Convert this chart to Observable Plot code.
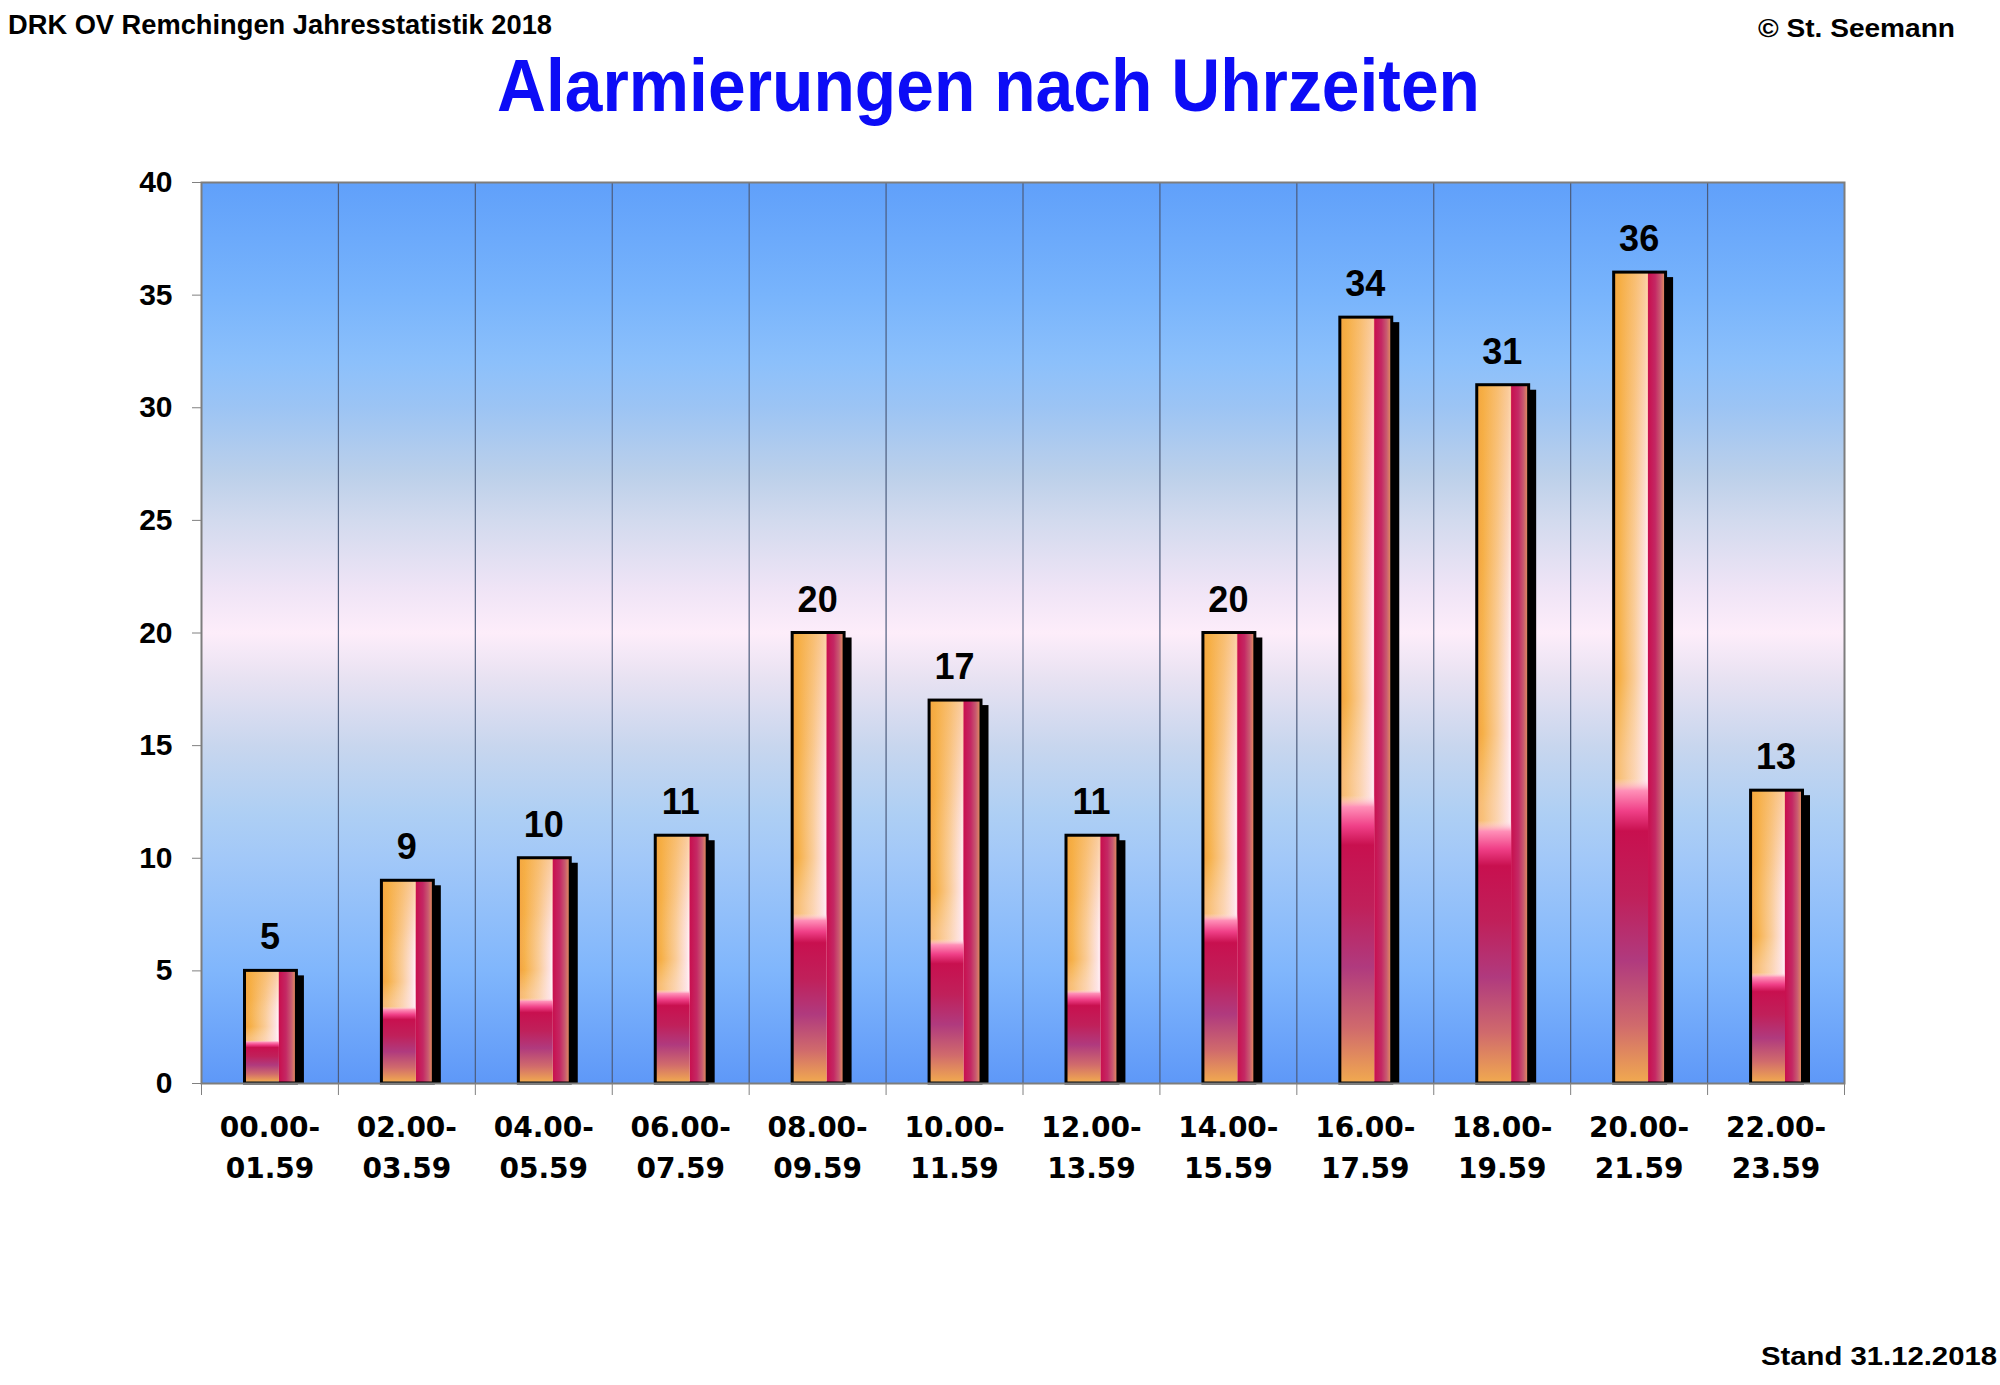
<!DOCTYPE html>
<html><head><meta charset="utf-8">
<script src="https://cdn.jsdelivr.net/npm/d3@7"></script>
<script src="https://cdn.jsdelivr.net/npm/@observablehq/plot@0.6"></script>
<style>
html,body{margin:0;padding:0;background:#fff;}
#page{position:relative;width:2000px;height:1385px;overflow:hidden;font-family:"Liberation Sans",Arial,sans-serif;color:#000;}
#header{position:relative;height:140px;}
#chart{height:1160px;}
#footer{position:relative;height:85px;}
.t{position:absolute;white-space:nowrap;line-height:1;transform-origin:0 0;}
</style></head><body>
<div id="page">
  <div id="header">
    <div class="t" id="src" style="font-size:27px;top:12px;left:8px;font-weight:bold;" data-w="544">DRK OV Remchingen Jahresstatistik 2018</div>
    <div class="t" id="title" style="font-size:75px;top:47.5px;left:497px;font-weight:bold;color:#0c0cf6;" data-w="983">Alarmierungen nach Uhrzeiten</div>
    <div class="t" id="copy" style="font-size:26px;top:15px;left:1758px;font-weight:bold;" data-w="197">© St. Seemann</div>
  </div>
  <div id="chart"></div>
  <div id="footer">
    <div class="t" id="stand" style="font-size:25px;top:43.8px;left:1761px;font-weight:bold;" data-w="236">Stand 31.12.2018</div>
  </div>
</div>
<script>
// ---- data ----
const labels = ["00.00-\n01.59","02.00-\n03.59","04.00-\n05.59","06.00-\n07.59","08.00-\n09.59","10.00-\n11.59","12.00-\n13.59","14.00-\n15.59","16.00-\n17.59","18.00-\n19.59","20.00-\n21.59","22.00-\n23.59"];
const counts = [5, 9, 10, 11, 20, 17, 11, 20, 34, 31, 36, 13];
const startHour = [0, 2, 4, 6, 8, 10, 12, 14, 16, 18, 20, 22];
const hourTicks = [0, 2, 4, 6, 8, 10, 12, 14, 16, 18, 20, 22, 24];
const yTicks = [0, 5, 10, 15, 20, 25, 30, 35, 40];

const rows = counts.map((c, i) => ({label: labels[i], count: c, start: startHour[i], end: startHour[i] + 2, mid: startHour[i] + 1}));

const chart = Plot.plot({
  width: 2000,
  height: 1160,
  marginLeft: 201,
  marginRight: 156,
  marginTop: 42,
  marginBottom: 217,
  style: {fontFamily: "'Liberation Sans', Arial, sans-serif", fontWeight: "bold", color: "black", background: "white", overflow: "visible"},
  x: {type: "linear", domain: [0, 24]},
  y: {domain: [0, 40]},
  marks: [
    Plot.frame({fill: "url(#bgGrad)"}),
    Plot.ruleX(startHour.slice(1), {stroke: "#4c5c7c", strokeWidth: 1.2}),
    // shadow
    Plot.rectY(rows, {x1: "start", x2: "end", y1: 0, y2: "count", fill: "black", insetLeft: 47.5, insetRight: 34, insetTop: 5}),
    // main body
    Plot.rectY(rows, {x1: "start", x2: "end", y1: 0, y2: "count", fill: "url(#barH)", insetLeft: 43.5, insetRight: 41.5}),
    Plot.rectY(rows, {x1: "start", x2: "end", y1: 0, y2: "count", fill: "url(#barTop)", insetLeft: 43.5, insetRight: 59}),
    Plot.rectY(rows, {x1: "start", x2: "end", y1: 0, y2: "count", fill: "url(#barV)", insetLeft: 44, insetRight: 59, insetBottom: 1.5, insetTop: 1.5}),
    Plot.rectY(rows, {x1: "start", x2: "end", y1: 0, y2: "count", fill: "none", stroke: "black", strokeWidth: 3, insetLeft: 43.5, insetRight: 41.5}),
    Plot.frame({stroke: "#7d7d7d", strokeWidth: 2}),
    Plot.axisY({ticks: yTicks, tickSize: 9, tickPadding: 20, fontSize: 30, stroke: "#808080", fill: "black", label: null}),
    Plot.axisX({ticks: hourTicks, tickSize: 12, tickFormat: () => "", stroke: "#808080", label: null}),
    Plot.axisX({ticks: rows.map(d => d.mid), tickSize: 0, tickPadding: 25, tickFormat: d => labels[startHour.indexOf(d - 1)], fontSize: 28, lineHeight: 1.45, fill: "black", fontFamily: "'DejaVu Sans', sans-serif", label: null}),
    Plot.text(rows, {x: "mid", y: "count", text: d => String(d.count), dy: -33, fontSize: 36, lineAnchor: "middle", fill: "black"})
  ]
});

// gradients
const defs = d3.select(chart).insert("defs", ":first-child");
function grad(id, x1, y1, x2, y2, stops) {
  const g = defs.append("linearGradient").attr("id", id)
    .attr("x1", x1).attr("y1", y1).attr("x2", x2).attr("y2", y2);
  for (const [o, c, op] of stops) {
    g.append("stop").attr("offset", o).attr("stop-color", c).attr("stop-opacity", op == null ? 1 : op);
  }
}
grad("bgGrad", 0, 0, 0, 1, [
  [0, "#60a0fa"], [0.125, "#78b4fc"], [0.2, "#8cc0fb"], [0.25, "#9cc4f4"],
  [0.325, "#bcd0ea"], [0.375, "#d2daee"], [0.45, "#efe4f6"], [0.5, "#fdedfa"],
  [0.55, "#e8e2f2"], [0.625, "#c8d6ee"], [0.7, "#aecff4"], [0.75, "#a2c8f8"],
  [0.875, "#80b6fc"], [1, "#5e98f8"]
]);
grad("barH", 0, 0, 1, 0, [
  [0, "#f2a040"], [0.12, "#f6b048"], [0.4, "#facc98"], [0.6, "#fde2e0"],
  [0.64, "#fff0f2"], [0.652, "#ffd0e0"], [0.67, "#c8104f"], [0.8, "#c42864"],
  [0.9, "#c85a70"], [1, "#e8985a"]
]);
grad("barTop", 0, 0, 0, 1, [
  [0, "#f6ac40", 0.45], [0.25, "#f6ac40", 0.15], [0.5, "#ffffff", 0], [0.6, "#ffe8ee", 0.3], [1, "#ffe8ee", 0.3]
]);
grad("barV", 0, 0, 0, 1, [
  [0, "#ffffff", 0], [0.625, "#ffe0ea", 0], [0.64, "#ff90b8", 1], [0.665, "#f04088", 1],
  [0.69, "#c8104f", 1], [0.77, "#c0205a", 1], [0.85, "#b03a7e", 1], [0.93, "#d06a6c", 1],
  [1, "#f0a850", 1]
]);

document.getElementById("chart").appendChild(chart);

// fit header/footer text widths
for (const el of document.querySelectorAll(".t")) {
  const w = el.getBoundingClientRect().width;
  const target = +el.dataset.w;
  if (w > 0) el.style.transform = `scaleX(${target / w})`;
}
</script>
</body></html>
